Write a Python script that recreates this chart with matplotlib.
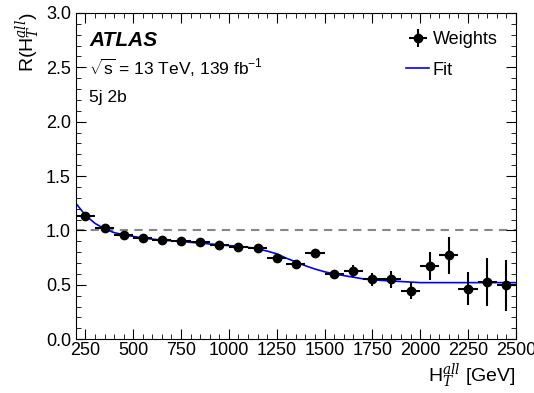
import matplotlib
matplotlib.use("Agg")
import matplotlib.pyplot as plt
from matplotlib.ticker import MultipleLocator

plt.rcParams['font.family'] = ['Liberation Sans', 'DejaVu Sans']
plt.rcParams['mathtext.fontset'] = 'custom'
plt.rcParams['mathtext.rm'] = 'Liberation Sans'
plt.rcParams['mathtext.it'] = 'DejaVu Serif:italic'

# Data points (bin centres, 100 GeV bins)
bin_centres = [250, 350, 450, 550, 650, 750, 850, 950, 1050, 1150, 1250, 1350,
               1450, 1550, 1650, 1750, 1850, 1950, 2050, 2150, 2250, 2350, 2450]
weights = [1.13, 1.02, 0.96, 0.93, 0.915, 0.90, 0.89, 0.865, 0.85, 0.835, 0.75, 0.69,
           0.79, 0.60, 0.625, 0.55, 0.55, 0.445, 0.675, 0.77, 0.465, 0.525, 0.495]
weights_err = [0.03, 0.02, 0.015, 0.015, 0.015, 0.015, 0.015, 0.015, 0.02, 0.025, 0.03, 0.03,
               0.03, 0.035, 0.055, 0.06, 0.08, 0.08, 0.13, 0.17, 0.155, 0.22, 0.235]
bin_half_width = [50] * len(bin_centres)

# Fit curve
fit_x = [200, 250, 300, 350, 400, 450, 500, 550, 600, 650, 700, 750, 800, 850, 900, 950,
         1000, 1050, 1100, 1150, 1200, 1250, 1300, 1350, 1400, 1450, 1500, 1550, 1600,
         1650, 1700, 1750, 1800, 1850, 1900, 1950, 2000, 2100, 2200, 2300, 2400, 2500]
fit_y = [1.25, 1.14, 1.065, 1.015, 0.98, 0.96, 0.945, 0.93, 0.92, 0.91, 0.905, 0.90, 0.89,
         0.885, 0.875, 0.87, 0.86, 0.855, 0.845, 0.83, 0.81, 0.785, 0.745, 0.71, 0.675,
         0.645, 0.62, 0.60, 0.585, 0.57, 0.555, 0.545, 0.54, 0.535, 0.53, 0.525, 0.52,
         0.52, 0.52, 0.52, 0.52, 0.52]

fig = plt.figure(figsize=(5.34, 3.93), dpi=100)
ax = fig.add_axes([0.142, 0.137, 0.824, 0.830])

ax.axhline(1.0, color='#888888', linestyle=(0, (4, 3)), linewidth=1.5, zorder=1)
fit_line, = ax.plot(fit_x, fit_y, color='#0000ff', linewidth=1.2, zorder=2)
pts = ax.errorbar(bin_centres, weights, xerr=bin_half_width, yerr=weights_err, fmt='o',
                  color='black', markersize=6, elinewidth=1.5, capsize=0, zorder=3)

ax.set_xlim(200, 2500)
ax.set_ylim(0, 3.0)
ax.xaxis.set_minor_locator(MultipleLocator(50))
ax.yaxis.set_minor_locator(MultipleLocator(0.1))
ax.tick_params(which='both', direction='in', top=True, right=True, labelsize=13)
ax.tick_params(which='major', length=7)
ax.tick_params(which='minor', length=3.5)
ax.tick_params(axis='x', pad=2)
ax.set_xticks([250, 500, 750, 1000, 1250, 1500, 1750, 2000, 2250, 2500])
ax.set_xticklabels(['250', '500', '750', '1000', '1250', '1500', '1750', '2000', '2250', '2500'])
ax.set_yticks([0, 0.5, 1.0, 1.5, 2.0, 2.5, 3.0])
ax.set_yticklabels(['0.0', '0.5', '1.0', '1.5', '2.0', '2.5', '3.0'])

ax.set_xlabel(r'H$_{T}^{all}$ [GeV]', fontsize=14, loc='right', labelpad=2)
ax.set_ylabel(r'R(H$_{T}^{all}$)', fontsize=14, loc='top', labelpad=3)

ax.text(0.03, 0.915, 'ATLAS', transform=ax.transAxes, fontsize=15, fontweight='bold',
        fontstyle='italic', va='center')
ax.text(0.03, 0.83, r'$\sqrt{\mathrm{s}}$ = 13 TeV, 139 fb$^{-1}$', transform=ax.transAxes,
        fontsize=12.5, va='center')
ax.text(0.03, 0.74, '5j 2b', transform=ax.transAxes, fontsize=12.5, va='center')

leg = ax.legend([pts, fit_line], ['Weights', 'Fit'], loc='upper right', frameon=False,
                fontsize=13, handlelength=1.3, handletextpad=0.2, borderaxespad=0.6,
                labelspacing=0.75)

fig.savefig('out.png', dpi=100)
